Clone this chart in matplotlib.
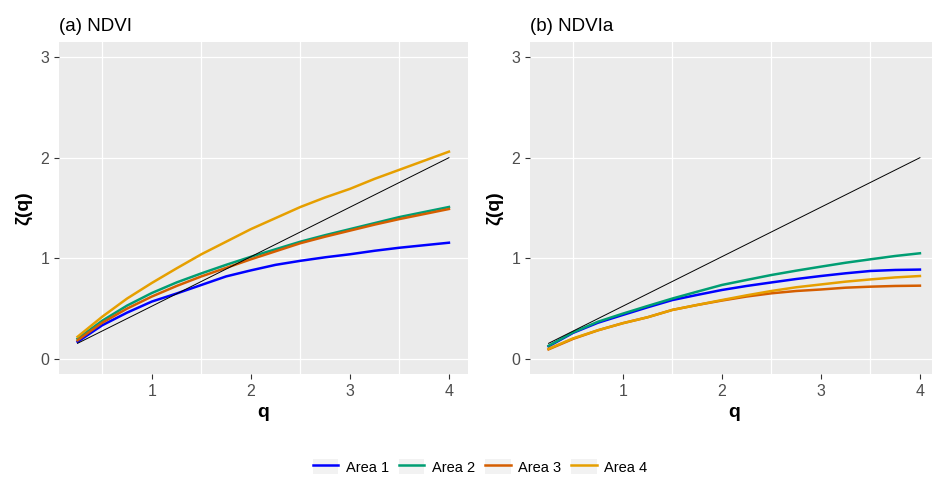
import numpy as np
from matplotlib import pyplot as plt
from matplotlib.patches import Patch
from matplotlib.legend_handler import HandlerTuple

plt.rcParams['font.family'] = ['Liberation Sans', 'DejaVu Sans']

q = [0.25, 0.5, 0.75, 1.0, 1.25, 1.5, 1.75, 2.0,
     2.25, 2.5, 2.75, 3.0, 3.25, 3.5, 3.75, 4.0]

# (a) NDVI
ndvi_area1 = [0.17, 0.335, 0.46, 0.57, 0.65, 0.735, 0.82, 0.88,
              0.935, 0.975, 1.01, 1.04, 1.075, 1.105, 1.13, 1.155]
ndvi_area2 = [0.20, 0.38, 0.53, 0.655, 0.76, 0.85, 0.935, 1.015,
              1.09, 1.165, 1.23, 1.29, 1.35, 1.41, 1.46, 1.51]
ndvi_area3 = [0.185, 0.36, 0.50, 0.62, 0.725, 0.82, 0.905, 0.99,
              1.07, 1.15, 1.215, 1.275, 1.335, 1.39, 1.44, 1.49]
ndvi_area4 = [0.22, 0.42, 0.60, 0.755, 0.90, 1.04, 1.165, 1.29,
              1.40, 1.51, 1.605, 1.69, 1.79, 1.88, 1.97, 2.06]

# (b) NDVIa
ndvia_area1 = [0.125, 0.26, 0.36, 0.437, 0.513, 0.585, 0.636, 0.685,
               0.725, 0.76, 0.794, 0.824, 0.851, 0.874, 0.884, 0.888]
ndvia_area2 = [0.13, 0.265, 0.37, 0.45, 0.526, 0.60, 0.668, 0.735,
               0.785, 0.834, 0.877, 0.917, 0.956, 0.99, 1.023, 1.05]
ndvia_area3 = [0.095, 0.20, 0.285, 0.355, 0.414, 0.487, 0.536, 0.58,
               0.62, 0.652, 0.675, 0.69, 0.708, 0.718, 0.725, 0.728]
ndvia_area4 = [0.10, 0.205, 0.285, 0.355, 0.414, 0.487, 0.536, 0.585,
               0.632, 0.675, 0.712, 0.74, 0.768, 0.79, 0.81, 0.824]

areas = ['Area 1', 'Area 2', 'Area 3', 'Area 4']
colors = ['#0000FF', '#009E73', '#D55E00', '#E69F00']

# reference line
ref_q = [0.25, 4.0]
ref_z = [0.155, 2.0]

fig = plt.figure(figsize=(9.32, 4.8), dpi=100)
ax_a = fig.add_axes([59 / 932, 1 - 374 / 480, 408.5 / 932, 332 / 480])
ax_b = fig.add_axes([530 / 932, 1 - 374 / 480, 408.5 / 932, 332 / 480])

panels = [
    (ax_a, '(a) NDVI', [ndvi_area1, ndvi_area2, ndvi_area3, ndvi_area4]),
    (ax_b, '(b) NDVIa', [ndvia_area1, ndvia_area2, ndvia_area3, ndvia_area4]),
]

for ax, title, series in panels:
    ax.set_facecolor('#EBEBEB')
    for s in ax.spines.values():
        s.set_visible(False)
    for xv in [0.5, 1.5, 2.5, 3.5]:
        ax.axvline(xv, color='white', lw=0.9, zorder=0)
    for yv in [0, 1, 2, 3]:
        ax.axhline(yv, color='white', lw=0.9, zorder=0)

    for vals, name, c in zip(series, areas, colors):
        ax.plot(q, vals, color=c, lw=1.8, label=name, zorder=2)
    ax.plot(ref_q, ref_z, color='black', lw=0.7, zorder=3)

    ax.set_xlim(0.0625, 4.1875)
    ax.set_ylim(-0.15, 3.15)
    ax.set_xticks([1, 2, 3, 4])
    ax.set_yticks([0, 1, 2, 3])
    ax.tick_params(colors='#333333', labelcolor='#4D4D4D', labelsize=11.5,
                   length=3.5, width=0.8)
    ax.set_xlabel('q', fontsize=14, fontweight='bold', labelpad=4)
    ax.set_ylabel('ζ(q)', fontsize=14, fontweight='bold', labelpad=6)
    ax.set_title(title, loc='left', fontsize=13.5, pad=8)

lines, labels = ax_a.get_legend_handles_labels()
handles = [(Patch(facecolor='#F2F2F2', edgecolor='none'), ln) for ln in lines]
fig.legend(handles, labels, loc='center', ncol=4,
           bbox_to_anchor=(480 / 932, 1 - 467 / 480), frameon=False,
           fontsize=10.5, handlelength=1.75, handleheight=1.2,
           columnspacing=0.7, handletextpad=0.5,
           handler_map={tuple: HandlerTuple(ndivide=1, pad=0)})

fig.savefig('out.png', dpi=100)
